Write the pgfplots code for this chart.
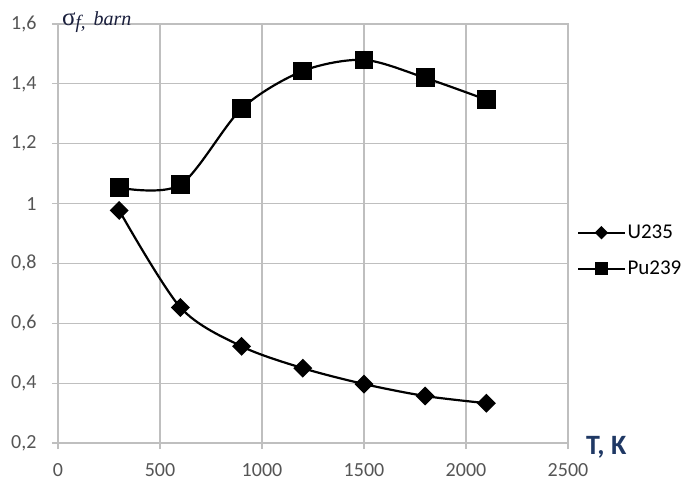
\documentclass[border=0pt]{standalone}
\usepackage{fontspec}
\setmainfont{Carlito}
\newfontfamily\serif{Liberation Serif}
\usepackage{pgfplots}
\pgfplotsset{compat=1.18}
\definecolor{gridc}{RGB}{191,191,191}
\definecolor{tickc}{RGB}{85,85,85}
\definecolor{navy}{RGB}{31,56,100}
\definecolor{dnavy}{RGB}{25,30,60}
\begin{document}
\begin{tikzpicture}
\begin{axis}[
  at={(0,0)}, anchor=south west,
  scale only axis, width=510pt, height=419pt,
  xmin=0, xmax=2500, ymin=0.2, ymax=1.6,
  xtick={0,500,...,2500},
  ytick={0.2,0.4,...,1.6},
  grid=major,
  major grid style={gridc, line width=1.2pt},
  axis line style={gridc, line width=1.2pt},
  tick style={gridc, line width=1.2pt},
  tick align=outside,
  major tick length=6pt,
  xtick pos=bottom, ytick pos=left,
  /pgf/number format/assume math mode=true,
  /pgf/number format/use comma,
  /pgf/number format/fixed,
  /pgf/number format/1000 sep={},
  yticklabel style={/pgf/number format/precision=1, font=\fontsize{20}{20}\selectfont, text=tickc, xshift=-12pt},
  xticklabel style={font=\fontsize{20}{20}\selectfont, text=tickc, yshift=-11pt},
  legend style={at={(rel axis cs:1.012,0.53)}, anchor=north west, draw=none, fill=none,
    font=\fontsize{21}{21}\selectfont, row sep=17pt, legend cell align=left},
  legend image code/.code={\draw[mark repeat=2,mark phase=2,every mark/.append style={scale=0.65},#1] plot coordinates {(0pt,0pt)(23pt,0pt)(46pt,0pt)};},
]
\addplot[black, line width=2.2pt, smooth, mark=square*, mark size=5.6pt, mark options={solid, rotate=45}] coordinates {
 (300,0.977) (600,0.653) (900,0.523) (1200,0.450) (1500,0.397) (1800,0.357) (2100,0.333)};
\addlegendentry{U235}
\addplot[black, line width=2.2pt, smooth, mark=square*, mark size=8.3pt, mark options={solid}] coordinates {
 (300,1.053) (600,1.063) (900,1.317) (1200,1.443) (1500,1.480) (1800,1.420) (2100,1.347)};
\addlegendentry{Pu239}
\end{axis}
\node[anchor=west, inner sep=0pt, text=dnavy] at (4pt,421pt) {\serif\fontsize{25}{25}\selectfont σ\raisebox{-3pt}{\itshape\fontsize{19}{19}\selectfont f,}\hspace{8pt}{\itshape\fontsize{20}{20}\selectfont barn}};
\node[anchor=west, inner sep=0pt, text=navy] at (528pt,-4pt) {\fontsize{28}{28}\selectfont\bfseries T, K};
\path[use as bounding box] (-58pt,-40pt) rectangle (629pt,443pt);
\end{tikzpicture}
\end{document}
